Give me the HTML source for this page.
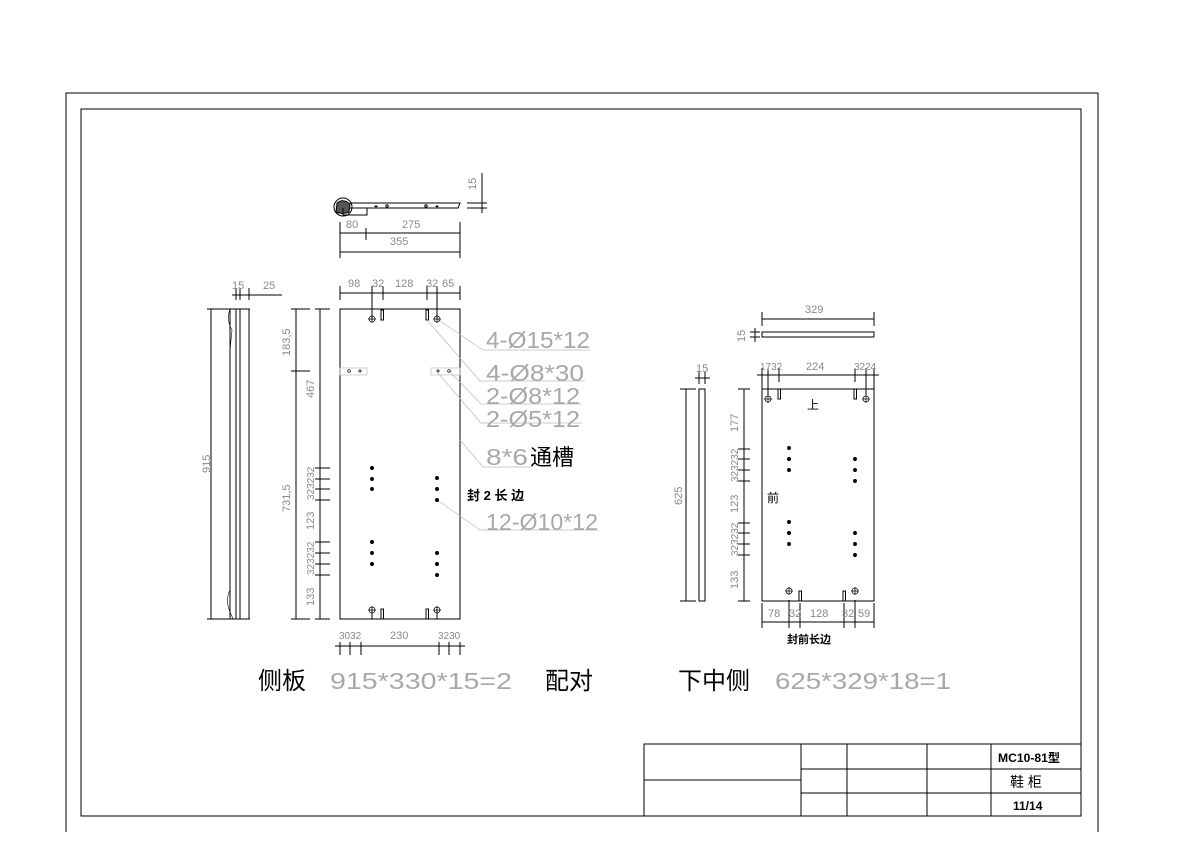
<!DOCTYPE html>
<html><head><meta charset="utf-8"><style>
html,body{margin:0;padding:0;background:#fff;}
svg{display:block;}
.d{font-family:"Liberation Sans",sans-serif;font-size:11px;fill:#8a8a8a;}
.g{font-family:"Liberation Sans",sans-serif;font-size:23px;fill:#a8a8a8;}
.c{font-family:"Liberation Sans","Noto Sans CJK SC",sans-serif;fill:#000;}
</style></head><body>
<svg width="1191" height="842" viewBox="0 0 1191 842" xmlns="http://www.w3.org/2000/svg">
<g stroke="#000" stroke-width="1" fill="none">
<path d="M66 832V93H1098V832"/>
<rect x="81" y="109" width="1000" height="707"/>
<rect x="644" y="744" width="437" height="72"/>
<path d="M801 769H1081M801 793H1081M644 780H801M801 744V816M847 744V816M927 744V816M991 744V816"/>

<path d="M350 203H460L458 208H350"/>
<circle cx="343" cy="207" r="9"/>
<path d="M337 203Q343 198 350 204L349 212Q342 215 336 212Z" fill="#555"/>
<path d="M343 208V215H367V208"/>
<path d="M340 222V258M460 222V258M366 228V240M340 233H460M340 252H460"/>
<path d="M482 173V213M467 203H487M467 208H487"/>
<path d="M376 205V208M374.5 206.5H377.5M437 205V208M435.5 206.5H438.5"/>
<circle cx="387" cy="206" r="1.2"/><circle cx="426" cy="206" r="1.2"/>

<path d="M211 309V619M230 309V619M236 309V619M240 309V619M249 309V619M207 309H250M207 619H250"/>
<path d="M230 309Q226 320 232 330L230 350M230 590Q225 600 230 612L233 619" stroke-width="0.6"/>
<path d="M232 295H282M236 288V300M240 288V300M249 288V300"/>

<path d="M296 309V619M291 309H310M291 371H310M291 619H310"/>
<path d="M320 309V619M315 309H330M315 468H330M315 479H330M315 489H330M315 500H330M315 542H330M315 553H330M315 564H330M315 575H330M315 619H330"/>

<rect x="340" y="309" width="120" height="310"/>
<path d="M340 293H460M340 286V300M372 286V320M383 286V300M427 286V300M437 286V320M460 286V300"/>
<rect x="381" y="310" width="2.5" height="10"/><rect x="426" y="310" width="2.5" height="10"/>
<rect x="381" y="609" width="2.5" height="10"/><rect x="426" y="609" width="2.5" height="10"/>
<path d="M340 646H465M340 642V655M350 642V655M361 642V655M439 642V655M449 642V655M460 642V655M335 646H340"/>
<path d="M372 610V619M437 610V619"/>
<g stroke="#bbb" stroke-width="0.7">
<rect x="340" y="368" width="27" height="7"/><rect x="431" y="368" width="29" height="7"/>
<path d="M437 319L483 350H590M427 320L480 381H585M449 371L481 404H582M438 373L481 423H582M460 440L483 467H530M437 500L480 530H598"/>
</g>
</g>
<g fill="#000" stroke="#000" stroke-width="0.7">
<g fill="none"><circle cx="372" cy="319" r="3"/><circle cx="437" cy="319" r="3"/><circle cx="372" cy="610" r="3"/><circle cx="437" cy="610" r="3"/>
<circle cx="768" cy="399" r="3"/><circle cx="866" cy="399" r="3"/><circle cx="789" cy="591" r="3"/><circle cx="855" cy="591" r="3"/>
<circle cx="349" cy="371" r="1.3"/><circle cx="449" cy="371" r="1.3"/></g>
<path d="M368 319H376M372 315V323M433 319H441M437 315V323M368 610H376M372 606V614M433 610H441M437 606V614M358 371H362M360 369V373M436 371H440M438 369V373
M764 399H772M768 395V403M862 399H870M866 395V403M785 591H793M789 587V595M851 591H859M855 587V595"/>
<circle cx="372" cy="468" r="1.6"/><circle cx="372" cy="479" r="1.6"/><circle cx="372" cy="489" r="1.6"/>
<circle cx="372" cy="542" r="1.6"/><circle cx="372" cy="553" r="1.6"/><circle cx="372" cy="564" r="1.6"/>
<circle cx="437" cy="478" r="1.6"/><circle cx="437" cy="489" r="1.6"/><circle cx="437" cy="500" r="1.6"/>
<circle cx="437" cy="553" r="1.6"/><circle cx="437" cy="564" r="1.6"/><circle cx="437" cy="575" r="1.6"/>
<circle cx="789" cy="448" r="1.6"/><circle cx="789" cy="459" r="1.6"/><circle cx="789" cy="470" r="1.6"/>
<circle cx="789" cy="522" r="1.6"/><circle cx="789" cy="533" r="1.6"/><circle cx="789" cy="544" r="1.6"/>
<circle cx="855" cy="459" r="1.6"/><circle cx="855" cy="470" r="1.6"/><circle cx="855" cy="481" r="1.6"/>
<circle cx="855" cy="533" r="1.6"/><circle cx="855" cy="544" r="1.6"/><circle cx="855" cy="555" r="1.6"/>
</g>
<g stroke="#000" stroke-width="1" fill="none">
<path d="M762 319H874M762 312V326M874 312V326"/>
<rect x="762" y="332" width="112" height="5"/>
<path d="M750 332H760M750 337H760M755 328V342"/>
<rect x="699" y="389" width="6" height="212"/>
<path d="M686 389V601M680 389H696M680 601H696M695 378H710M699 372V384M705 372V384"/>
<rect x="762" y="389" width="112" height="212"/>
<path d="M757 375H879M762 368V389M768 368V395M779 368V382M855 368V382M866 368V395M874 368V389"/>
<rect x="778" y="389" width="2.5" height="10"/><rect x="854" y="389" width="2.5" height="10"/>
<rect x="799" y="591" width="2.5" height="10"/><rect x="843" y="591" width="2.5" height="10"/>
<path d="M744 389V601M738 389H750M738 449H750M738 459H750M738 470H750M738 481H750M738 523H750M738 533H750M738 544H750M738 555H750M738 601H750"/>
<path d="M762 622H874M762 603V628M789 600V628M800 603V628M844 603V628M855 600V628M874 603V628"/>
</g>
<g class="d">
<text transform="translate(476,190) rotate(-90)">15</text>
<text x="346" y="228">80</text><text x="402" y="228">275</text><text x="390" y="245">355</text>
<text x="232" y="289">15</text><text x="263" y="289">25</text>
<text x="348" y="287">98</text><text x="372" y="287">32</text><text x="395" y="287">128</text><text x="426" y="287">32</text><text x="442" y="287">65</text>
<text transform="translate(210,473) rotate(-90)">915</text>
<text transform="translate(290,356) rotate(-90)">183,5</text>
<text transform="translate(314,398) rotate(-90)">467</text>
<text transform="translate(290,512) rotate(-90)">731,5</text>
<text transform="translate(314,500) rotate(-90)" font-size="10">323232</text>
<text transform="translate(314,530) rotate(-90)">123</text>
<text transform="translate(314,575) rotate(-90)" font-size="10">323232</text>
<text transform="translate(314,606) rotate(-90)">133</text>
<text x="339" y="639" font-size="10">3032</text><text x="390" y="639">230</text><text x="438" y="639" font-size="10">3230</text>
<text x="805" y="313">329</text>
<text transform="translate(745,342) rotate(-90)">15</text>
<text x="696" y="372">15</text>
<text transform="translate(682,505) rotate(-90)">625</text>
<text x="760" y="370" font-size="10">1732</text><text x="806" y="370">224</text><text x="854" y="370" font-size="10">3224</text>
<text transform="translate(738,432) rotate(-90)">177</text>
<text transform="translate(738,482) rotate(-90)" font-size="10">323232</text>
<text transform="translate(738,513) rotate(-90)">123</text>
<text transform="translate(738,556) rotate(-90)" font-size="10">323232</text>
<text transform="translate(738,589) rotate(-90)">133</text>
<text x="768" y="617">78</text><text x="789" y="617">32</text><text x="810" y="617">128</text><text x="842" y="617">32</text><text x="858" y="617">59</text>
</g>
<g class="g">
<text x="486" y="348" textLength="104" lengthAdjust="spacingAndGlyphs">4-Ø15*12</text>
<text x="486" y="381" textLength="98" lengthAdjust="spacingAndGlyphs">4-Ø8*30</text>
<text x="486" y="404" textLength="94" lengthAdjust="spacingAndGlyphs">2-Ø8*12</text>
<text x="486" y="427" textLength="94" lengthAdjust="spacingAndGlyphs">2-Ø5*12</text>
<text x="486" y="465" textLength="42" lengthAdjust="spacingAndGlyphs">8*6</text>
<text x="486" y="530" textLength="112" lengthAdjust="spacingAndGlyphs">12-Ø10*12</text>
<text x="330" y="689" textLength="182" lengthAdjust="spacingAndGlyphs">915*330*15=2</text>
<text x="775" y="689" textLength="176" lengthAdjust="spacingAndGlyphs">625*329*18=1</text>
</g>
<g class="c">
<text x="530" y="465" font-size="22">通槽</text>
<text x="467" y="500" font-size="13" font-weight="bold">封 2 长 边</text>
<text x="258" y="689" font-size="24">侧板</text>
<text x="545" y="689" font-size="24">配对</text>
<text x="678" y="689" font-size="24">下中侧</text>
<text x="807" y="409" font-size="12">上</text>
<text x="767" y="502" font-size="12">前</text>
<text x="787" y="643" font-size="11" font-weight="bold">封前长边</text>
<text x="998" y="762" font-size="12" font-weight="bold" textLength="62" lengthAdjust="spacingAndGlyphs">MC10-81型</text>
<text x="1010" y="787" font-size="14">鞋 柜</text>
<text x="1013" y="810" font-size="12" font-weight="bold">11/14</text>
</g>
</svg>
</body></html>
